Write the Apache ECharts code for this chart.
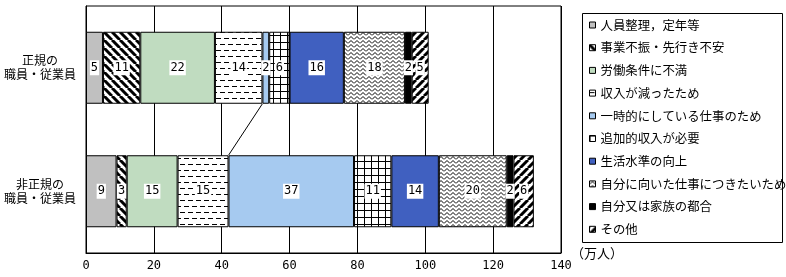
<!DOCTYPE html>
<html>
<head>
<meta charset="utf-8">
<script src="https://cdn.jsdelivr.net/npm/echarts@6/dist/echarts.min.js"></script>
<style>
html,body{margin:0;padding:0;background:#fff;}
#chart{width:786px;height:277px;}
</style>
</head>
<body>
<div id="chart"></div>
<script>
// ---- data ----
const categories = ['正規の\n職員・従業員', '非正規の\n職員・従業員'];
const reasons = [
  '人員整理，定年等',
  '事業不振・先行き不安',
  '労働条件に不満',
  '収入が減ったため',
  '一時的にしている仕事のため',
  '追加的収入が必要',
  '生活水準の向上',
  '自分に向いた仕事につきたいため',
  '自分又は家族の都合',
  'その他'
];
const regularValues = [5, 11, 22, 14, 2, 6, 16, 18, 2, 5];
const nonRegularValues = [9, 3, 15, 15, 37, 11, 14, 20, 2, 6];
const xMin = 0, xMax = 140, xInterval = 20;
const unitLabel = '（万人）';

// ---- fills ----
function makeCanvas(w, h, draw) {
  const c = document.createElement('canvas');
  c.width = w; c.height = h;
  const g = c.getContext('2d');
  g.fillStyle = '#fff'; g.fillRect(0, 0, w, h);
  g.fillStyle = '#000'; g.strokeStyle = '#000';
  draw(g, w, h);
  return { image: c, repeat: 'repeat' };
}
const backStripe = makeCanvas(8, 8, g => {
  g.lineWidth = 3; g.beginPath();
  for (let k = -1; k <= 1; k++) { g.moveTo(k * 8, 0); g.lineTo(k * 8 + 8, 8); }
  g.stroke();
});
const fwdStripe = makeCanvas(8, 8, g => {
  g.lineWidth = 3; g.beginPath();
  for (let k = -1; k <= 1; k++) { g.moveTo(k * 8, 8); g.lineTo(k * 8 + 8, 0); }
  g.stroke();
});
const dashes = makeCanvas(8, 12, g => {
  g.fillRect(0, 2, 5, 1);
  g.fillRect(4, 8, 5, 1);
  g.fillRect(-4, 8, 5, 1);
});
const gridFill = makeCanvas(7, 7, g => {
  g.fillRect(0, 0, 7, 1);
  g.fillRect(0, 0, 1, 7);
});
const zigzag = makeCanvas(6, 4, g => {
  g.lineWidth = 1; g.beginPath();
  g.moveTo(0, 3.5); g.lineTo(3, 0.5); g.lineTo(6, 3.5);
  g.stroke();
});
const fills = ['#C0C0C0', backStripe, '#C0DCC0', dashes, '#A6CAF0', gridFill, '#4060C0', zigzag, '#000000', fwdStripe];

const chart = echarts.init(document.getElementById('chart'), null, { renderer: 'canvas' });
const barWidth = 72;
const series = reasons.map((name, i) => ({
  type: 'bar',
  name: name,
  stack: 'total',
  barWidth: barWidth,
  data: [regularValues[i], nonRegularValues[i]],
  itemStyle: { color: fills[i], borderColor: '#000', borderWidth: 1 },
  emphasis: { disabled: true },
  label: {
    show: true, position: 'inside', color: '#000', backgroundColor: '#fff',
    fontSize: 12, fontFamily: 'DejaVu Sans Mono', padding: [2, 1, 1, 1]
  }
}));

chart.setOption({
  animation: false,
  textStyle: { fontFamily: 'Noto Sans CJK JP', color: '#000' },
  grid: { left: 86, right: 225, top: 6, bottom: 24, show: true, borderColor: '#000', borderWidth: 1, containLabel: false },
  xAxis: {
    type: 'value', min: xMin, max: xMax, interval: xInterval,
    axisLine: { show: true, lineStyle: { color: '#000', width: 1 } },
    axisTick: { show: false },
    splitLine: { show: true, lineStyle: { color: '#000', width: 1 } },
    axisLabel: { color: '#000', fontSize: 12, margin: 7, fontFamily: 'DejaVu Sans Mono' },
    name: unitLabel, nameLocation: 'end', nameGap: 10,
    nameTextStyle: { color: '#000', fontSize: 13, align: 'left', verticalAlign: 'middle' }
  },
  yAxis: {
    type: 'category', data: categories, inverse: true,
    axisLine: { show: true, lineStyle: { color: '#000' } },
    axisTick: { show: false },
    axisLabel: { color: '#000', fontSize: 12, lineHeight: 14, align: 'center', margin: 46 }
  },
  legend: {
    orient: 'vertical', left: 584, top: 13,
    itemWidth: 6, itemHeight: 6, itemGap: 8.7, icon: 'rect',
    itemStyle: { borderColor: '#000', borderWidth: 1 },
    textStyle: { color: '#000', fontSize: 12.4, lineHeight: 14 },
    selectedMode: false,
    data: reasons
  },
  series: series
});

// legend frame + series line for "一時的にしている仕事のため"
const idx = 4;
const startReg = regularValues.slice(0, idx).reduce((a, b) => a + b, 0);
const startNon = nonRegularValues.slice(0, idx).reduce((a, b) => a + b, 0);
const p1 = chart.convertToPixel({ gridIndex: 0 }, [startReg, 0]);
const p2 = chart.convertToPixel({ gridIndex: 0 }, [startNon, 1]);
chart.setOption({
  graphic: [
    { type: 'rect', shape: { x: 582.5, y: 13.5, width: 200, height: 229 }, style: { fill: 'none', stroke: '#000', lineWidth: 1 }, silent: true },
    { type: 'line', shape: { x1: p1[0], y1: p1[1] + barWidth / 2, x2: p2[0], y2: p2[1] - barWidth / 2 }, style: { stroke: '#000', lineWidth: 1 }, silent: true, z: 10 }
  ]
});
</script>
</body>
</html>
